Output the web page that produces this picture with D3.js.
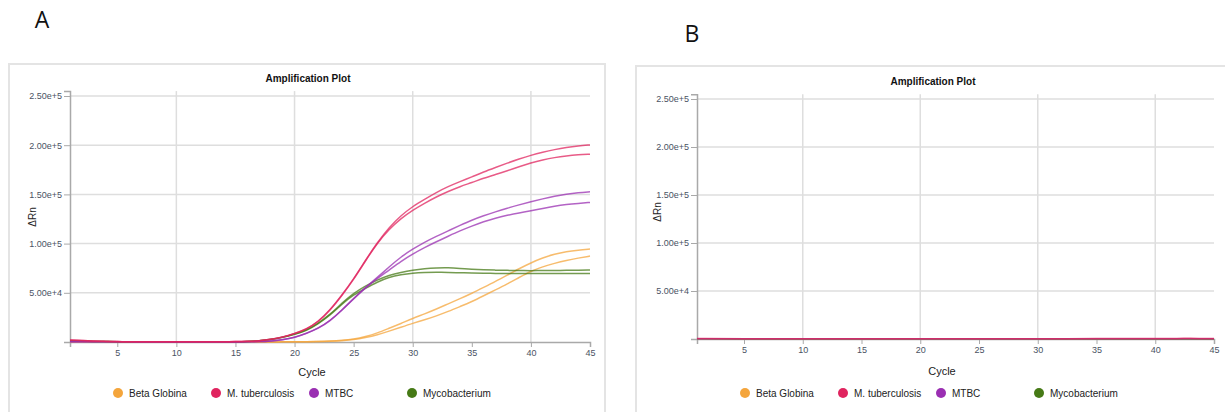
<!DOCTYPE html>
<html>
<head>
<meta charset="utf-8">
<script src="https://cdn.jsdelivr.net/npm/d3@7"></script>
<style>
  body { margin: 0; background: #fff; }
  svg { display: block; font-family: "Liberation Sans", Arial, sans-serif; }
</style>
</head>
<body>
<div id="chart"></div>
<script>
// ---- data ----
var seriesNames = ["Beta Globina", "M. tuberculosis", "MTBC", "Mycobacterium"];
var seriesColors = ["#f4a53c", "#e0245f", "#9a2fb2", "#467a16"];

var yTicks = [0, 50000, 100000, 150000, 200000, 250000];
var xTicks = [5, 10, 15, 20, 25, 30, 35, 40, 45];
var xGrid = [10, 20, 30, 40];

// panel A : one value per cycle 1..45, two wells per target
var cyclesA = d3.range(1, 46);
var betaA1 = [300,250,200,150,100,100,100,100,100,100,100,100,100,100,100,100,100,100,150,200,300,500,900,
  1600,2800,5400,9000,14000,18800,24000,28500,33500,38800,44000,49500,55500,61500,68000,74500,80500,85500,89300,91800,93300,94400];
var betaA2 = [300,250,200,150,100,100,100,100,100,100,100,100,100,100,100,100,100,100,150,200,300,400,800,
  1300,2300,4500,7200,11000,15000,19000,22500,26500,31000,36000,41000,47000,53000,59000,65600,72000,76500,80000,83000,85300,87300];
var mtbA1 = [1800,1400,1000,600,400,300,200,200,200,200,200,300,300,300,400,600,1200,2700,5000,8600,13000,20600,32400,
  47600,64000,83000,101000,116500,128500,137800,145000,152000,158000,163000,167800,172800,177300,181800,186000,189800,192900,195600,197800,199300,200300];
var mtbA2 = [2000,1500,1100,700,400,300,200,200,200,200,200,300,300,300,400,600,1100,2600,4900,8500,12800,20300,32000,
  47000,63500,82500,100500,114500,125500,134000,141000,147500,153000,158000,162000,166500,170200,174000,178200,182000,185000,187500,189200,190300,190900];
var mtbcA1 = [300,250,200,200,150,150,100,100,100,100,100,100,100,100,100,200,300,1000,2300,4600,8800,13900,21600,
  32400,44300,55400,65500,76300,86500,94500,101500,107500,113000,118500,123900,128300,132300,136000,139400,142500,145500,148200,150300,151700,152600];
var mtbcA2 = [300,250,200,200,150,150,100,100,100,100,100,100,100,100,100,200,300,900,2200,4500,8600,13600,21200,
  32000,44000,55000,64500,73000,82000,89500,96000,102000,107500,113000,117800,122300,126000,128800,131200,133300,135800,138100,139800,140900,141800];
var mycoA1 = [1200,900,600,400,300,300,200,200,200,200,200,200,300,300,300,500,1200,2600,4800,8000,12000,19000,27800,
  39500,49500,57000,63000,68000,70800,73000,74500,75300,75500,74800,74000,73400,73000,72800,72600,72500,72600,72700,72800,73000,73100];
var mycoA2 = [1100,800,600,400,300,300,200,200,200,200,200,200,300,300,300,500,1100,2500,4700,7800,11300,18500,27000,
  38500,48000,54600,61000,66000,68500,70000,70600,70800,70800,70400,70000,69800,69700,69700,69600,69600,69600,69600,69600,69600,69600];

// panel B : no amplification, readings at a few cycles
var cyclesB = [1, 5, 10, 15, 20, 25, 30, 35, 40, 42, 43, 44, 45];
var betaB = [200,100,100,100,150,200,150,100,100,100,100,100,100];
var mtbB = [500,300,400,300,300,200,300,400,500,500,900,500,400];
var mtbcB = [300,200,200,200,200,200,100,200,200,200,200,200,200];
var mycoB = [200,100,100,100,100,100,100,100,100,100,100,100,100];

var yMax = 255000;

var svg = d3.select("#chart").append("svg")
    .attr("width", 1225)
    .attr("height", 412);

function drawPanel(p) {
  var g = svg.append("g");

  // frame
  g.append("rect")
    .attr("x", p.box[0]).attr("y", p.box[1])
    .attr("width", p.box[2]).attr("height", p.box[3])
    .attr("fill", "none")
    .attr("stroke", "#e4e4e4")
    .attr("stroke-width", 2);

  g.append("text")
    .attr("x", p.letter[0]).attr("y", p.letter[1])
    .attr("text-anchor", "middle")
    .style("font-family", "'Open Sans', 'Liberation Sans', sans-serif")
    .style("font-size", "23px")
    .attr("fill", "#111")
    .text(p.name);

  var x = d3.scaleLinear().domain([1, 45]).range([p.left, p.right]);
  var y = d3.scaleLinear().domain([0, yMax]).range([p.bottom, p.bottom - (p.bottom - p.top250) * yMax / 250000]);

  // title
  g.append("text")
    .attr("x", p.titleX).attr("y", p.titleY)
    .attr("text-anchor", "middle")
    .style("font-size", "10px")
    .style("font-weight", "bold")
    .attr("fill", "#111")
    .text("Amplification Plot");

  // grid
  g.selectAll(".hgrid")
    .data(yTicks.slice(1))
  .enter().append("line")
    .attr("x1", x(1)).attr("x2", x(45))
    .attr("y1", function(d) { return y(d); })
    .attr("y2", function(d) { return y(d); })
    .attr("stroke", "#dedede")
    .attr("stroke-width", 1.5);
  g.selectAll(".vgrid")
    .data(xGrid)
  .enter().append("line")
    .attr("x1", function(d) { return x(d); })
    .attr("x2", function(d) { return x(d); })
    .attr("y1", y(yMax)).attr("y2", y(0))
    .attr("stroke", "#dedede")
    .attr("stroke-width", 1.5);

  // axes
  var yAxis = d3.axisLeft(y)
    .tickValues(yTicks)
    .tickSize(6)
    .tickPadding(2)
    .tickFormat(function(d) { return d === 0 ? "" : d3.format(".2e")(d); });
  var xAxis = d3.axisBottom(x)
    .tickValues(xTicks)
    .tickSize(5)
    .tickPadding(3);

  var ya = g.append("g").attr("transform", "translate(" + p.left + ",0)").call(yAxis);
  var xa = g.append("g").attr("transform", "translate(0," + p.bottom + ")").call(xAxis);
  [ya, xa].forEach(function(a) {
    a.select(".domain").attr("stroke", "#a9a9a9").attr("stroke-width", 1.5);
    a.selectAll(".tick line").attr("stroke", "#a9a9a9");
    a.selectAll(".tick text")
      .attr("fill", "#4a5263")
      .style("font-size", "9px")
      .style("font-family", "'Liberation Sans', Arial, sans-serif");
  });

  // lines
  var line = d3.line()
    .x(function(d) { return x(d[0]); })
    .y(function(d) { return y(d[1]); })
    .curve(d3.curveBasis);

  p.series.forEach(function(s) {
    g.append("path")
      .datum(p.cycles.map(function(c, i) { return [c, s.values[i]]; }))
      .attr("d", line)
      .attr("fill", "none")
      .attr("stroke", seriesColors[s.idx])
      .attr("stroke-opacity", 0.75)
      .attr("stroke-width", 1.5);
  });

  // axis labels
  g.append("text")
    .attr("transform", "translate(" + p.ylab[0] + "," + p.ylab[1] + ") rotate(-90)")
    .attr("text-anchor", "middle")
    .attr("dy", "0.35em")
    .style("font-size", "10px")
    .attr("fill", "#222")
    .text("\u0394Rn");

  g.append("text")
    .attr("x", p.left + p.cycleOff).attr("y", p.cycleY)
    .attr("text-anchor", "middle")
    .attr("dy", "0.35em")
    .style("font-size", "11px")
    .attr("fill", "#222")
    .text("Cycle");

  // legend
  var legendOff = [48, 146, 244, 342];
  var lg = g.selectAll(".legend")
    .data(seriesNames)
  .enter().append("g")
    .attr("transform", function(d, i) { return "translate(" + (p.left + legendOff[i]) + "," + p.legendY + ")"; });
  lg.append("circle")
    .attr("r", 5)
    .attr("fill", function(d, i) { return seriesColors[i]; });
  lg.append("text")
    .attr("x", 11)
    .attr("dy", "0.35em")
    .style("font-size", "10px")
    .attr("fill", "#222")
    .text(function(d) { return d; });
}

drawPanel({
  name: "A", letter: [42, 28],
  box: [9, 64, 596, 370],
  left: 70, right: 590, bottom: 342, top250: 96,
  titleX: 308, titleY: 82,
  ylab: [32, 217], cycleOff: 242, cycleY: 372, legendY: 393,
  cycles: cyclesA,
  series: [
    {idx: 0, values: betaA1}, {idx: 0, values: betaA2},
    {idx: 3, values: mycoA1}, {idx: 3, values: mycoA2},
    {idx: 2, values: mtbcA1}, {idx: 2, values: mtbcA2},
    {idx: 1, values: mtbA1}, {idx: 1, values: mtbA2}
  ]
});

drawPanel({
  name: "B", letter: [692, 42],
  box: [636, 66, 600, 370],
  left: 697, right: 1214, bottom: 339, top250: 99,
  titleX: 933, titleY: 85,
  ylab: [657, 212], cycleOff: 245, cycleY: 371, legendY: 393,
  cycles: cyclesB,
  series: [
    {idx: 0, values: betaB}, {idx: 3, values: mycoB},
    {idx: 2, values: mtbcB}, {idx: 1, values: mtbB}
  ]
});
</script>
</body>
</html>
